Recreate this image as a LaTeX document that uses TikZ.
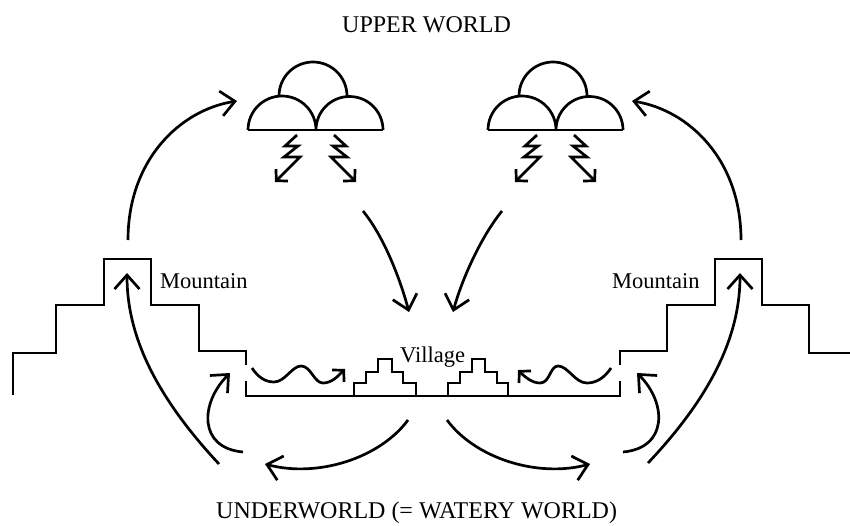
\documentclass[tikz,border=0pt]{standalone}
\usepackage{fontspec}
\setmainfont{Liberation Serif}
\usetikzlibrary{arrows.meta}
\tikzset{
  ln/.style={line width=2.7pt, line join=miter},
  bigarr/.style={line width=2.7pt, -{Straight Barb[length=14pt,width=25pt]}},
  smallarr/.style={line width=2.7pt, line join=miter, -{Straight Barb[length=8pt,width=17pt]}},
  lbl/.style={inner sep=0pt, anchor=base west, font=\fontsize{22.5}{26}\selectfont},
  world/.style={inner sep=0pt, anchor=base west, font=\fontsize{24}{28}\selectfont},
  cloud/.pic={
    \draw[ln] (248,130) -- (383,130);
    \draw[ln] (248,130) arc[start angle=180,end angle=0,radius=34pt]
                        arc[start angle=180,end angle=0,radius=33.5pt];
    \draw[ln] (279,96) arc[start angle=180,end angle=0,radius=34pt];
    \draw[smallarr] (297,135) -- (285,146) -- (298,146) -- (284,157) -- (300,157) -- (275,182);
    \draw[smallarr] (334,135) -- (346,146) -- (333,146) -- (347,157) -- (331,157) -- (356,182);
  }
}
\begin{document}
\begin{tikzpicture}[x=1pt,y=-1pt]
\useasboundingbox (0,0) rectangle (850,525);

% labels
\node[world] (upper) at (342,32) {UPPER WORLD};
\node[world] (under) at (216,518) {UNDERWORLD (= WATERY WORLD)};
\node[lbl] (mtnL) at (160,288) {Mountain};
\node[lbl] (mtnR) at (612,288) {Mountain};
\node[lbl] (vil) at (400,362) {Village};

% clouds
\pic at (0,0) {cloud};
\pic at (240,0) {cloud};

% left mountain
\draw[ln] (13,395) -- (13,353) -- (56,353) -- (56,305) -- (104,305) -- (104,259)
  -- (151,259) -- (151,305) -- (199,305) -- (199,351) -- (246,351) -- (246,365);
% village floor
\draw[ln] (246,381) -- (246,396) -- (620,396) -- (620,381);
% village houses
\draw[ln] (354,396) -- (354,383) -- (366,383) -- (366,372)
  -- (378,372) -- (378,359) -- (392,359) -- (392,372) -- (403,372) -- (403,383)
  -- (416,383) -- (416,396);
\draw[ln] (448,396) -- (448,383) -- (460,383) -- (460,372)
  -- (472,372) -- (472,359) -- (485,359) -- (485,372) -- (497,372) -- (497,383)
  -- (508,383) -- (508,396);
% right mountain
\draw[ln] (620,365) -- (620,351) -- (667,351) -- (667,305) -- (715,305) -- (715,259)
  -- (762,259) -- (762,305) -- (809,305) -- (809,353) -- (850,353);

% connector end points
\coordinate (mLtop) at (128,240);
\coordinate (cLin) at (237,101);
\coordinate (mRtop) at (741,240);
\coordinate (cRin) at (632,101);
\coordinate (cLout) at (363,211);
\coordinate (vL) at (409,312);
\coordinate (cRout) at (502,211);
\coordinate (vR) at (453,312);
\coordinate (wLs) at (252,368);
\coordinate (wLe) at (345,369);
\coordinate (wRs) at (611,368);
\coordinate (wRe) at (518,370);
\coordinate (fL) at (408,420);
\coordinate (uL) at (265,464);
\coordinate (fR) at (447,420);
\coordinate (uR) at (590,464);
\coordinate (sLs) at (243,452);
\coordinate (sLe) at (230,373);
\coordinate (sRs) at (623,452);
\coordinate (sRe) at (637,373);
\coordinate (bLs) at (219,464);
\coordinate (bLe) at (127,273);
\coordinate (bRs) at (648,463);
\coordinate (bRe) at (740,273);

% arrows
\draw[bigarr] (mLtop) .. controls (128,160) and (180,110) .. (cLin);
\draw[bigarr] (mRtop) .. controls (741,160) and (689,110) .. (cRin);
\draw[bigarr] (cLout) .. controls (385,238) and (401,282) .. (vL);
\draw[bigarr] (cRout) .. controls (480,238) and (461,282) .. (vR);
\draw[smallarr] (wLs) .. controls (258,377) and (265,382) .. (274,382)
   .. controls (285,382) and (292,366) .. (301,366)
   .. controls (311,366) and (314,383) .. (323,383)
   .. controls (332,383) and (338,376) .. (wLe);
\draw[smallarr] (wRs) .. controls (605,377) and (597,383) .. (587,383)
   .. controls (575,383) and (568,366) .. (558,366)
   .. controls (550,366) and (550,383) .. (540,383)
   .. controls (532,383) and (525,377) .. (wRe);
\draw[bigarr] (fL) .. controls (380,458) and (318,478) .. (uL);
\draw[bigarr] (fR) .. controls (475,458) and (537,478) .. (uR);
\draw[bigarr] (sLs) .. controls (198,448) and (200,403) .. (sLe);
\draw[bigarr] (sRs) .. controls (668,448) and (667,403) .. (sRe);
\draw[bigarr] (bLs) .. controls (150,390) and (127,330) .. (bLe);
\draw[bigarr] (bRs) .. controls (717,390) and (740,330) .. (bRe);
\end{tikzpicture}
\end{document}
